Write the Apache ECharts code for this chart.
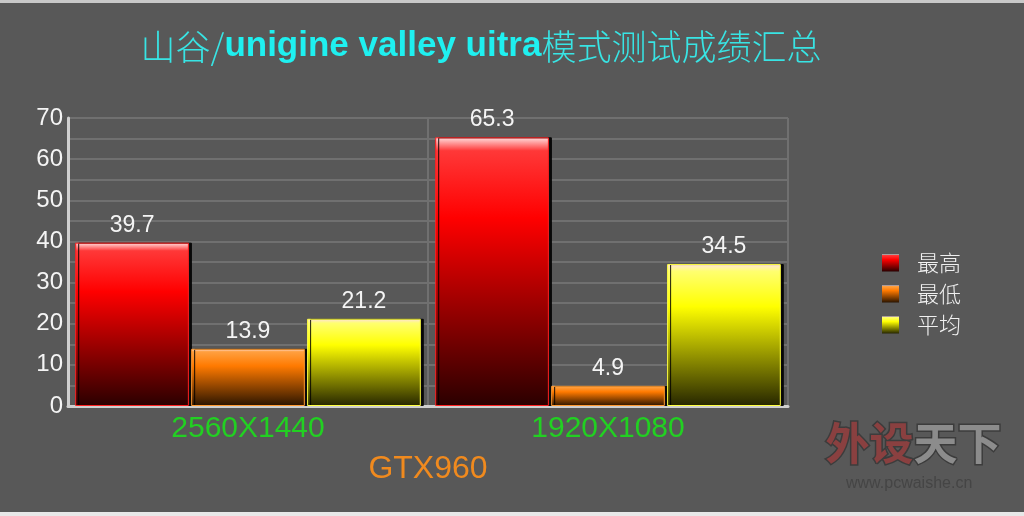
<!DOCTYPE html>
<html><head><meta charset="utf-8">
<script src="https://cdn.jsdelivr.net/npm/echarts@6/dist/echarts.min.js"></script>
<style>html,body{margin:0;padding:0;background:#585858}#c{width:1024px;height:516px}</style>
</head><body><div id="c"></div>
<script>
const categories = ['2560X1440', '1920X1080'];
const seriesNames = ['最高', '最低', '平均'];
const maxValues = [39.7, 65.3];
const minValues = [13.9, 4.9];
const avgValues = [21.2, 34.5];

function grad(top, mid, bottom) {
  return new echarts.graphic.LinearGradient(0, 0, 0, 1, [
    {offset: 0, color: '#ffe0e0'},
    {offset: 0.05, color: top},
    {offset: 0.3, color: mid},
    {offset: 1, color: bottom}
  ]);
}
const styles = [
  {c: grad('#ff3838', '#ff0000', '#2a0000'), b: '#ff2020'},
  {c: grad('#ffa040', '#ff7a00', '#2a1400'), b: '#ff9a30'},
  {c: grad('#ffff70', '#ffff00', '#262600'), b: '#ffff40'}
];
const dataSets = [maxValues, minValues, avgValues];

const chart = echarts.init(document.getElementById('c'));
chart.setOption({
  backgroundColor: '#585858',
  animation: false,
  title: {
    text: '{a|山谷/}{b|unigine valley uitra}{a|模式测试成绩汇总}',
    left: 476, top: 24, textAlign: 'center',
    textStyle: {
      rich: {
        a: {fontFamily: 'Noto Sans CJK SC', fontWeight: 300, fontSize: 35, color: '#38e4e4'},
        b: {fontFamily: 'Liberation Sans', fontWeight: 'bold', fontSize: 35, color: '#1ff0f0'}
      }
    }
  },
  legend: {
    orient: 'vertical', left: 877, top: 247, itemGap: 9,
    itemWidth: 17, itemHeight: 17, icon: 'rect',
    textStyle: {color: '#f0f0f0', fontSize: 22, fontFamily: 'Noto Sans CJK SC', fontWeight: 300, padding: [0, 0, 0, 13]},
    data: seriesNames.map((n, i) => ({name: n, itemStyle: {color: styles[i].c, borderWidth: 0}}))
  },
  grid: {left: 68, right: 236, top: 118, bottom: 110},
  xAxis: {
    type: 'category', data: categories,
    axisLine: {lineStyle: {color: '#cfcfcf', width: 3}},
    axisTick: {show: false},
    axisLabel: {color: '#22d022', fontSize: 30, fontFamily: 'Liberation Sans', margin: 8},
    splitLine: {show: true, lineStyle: {color: '#707070', width: 2}},
    name: 'GTX960', nameLocation: 'middle', nameGap: 47,
    nameTextStyle: {color: '#f08a1e', fontSize: 32, fontFamily: 'Liberation Sans'}
  },
  yAxis: {
    type: 'value', min: 0, max: 70, interval: 5,
    axisLine: {show: true, lineStyle: {color: '#cfcfcf', width: 3}},
    axisTick: {show: false},
    axisLabel: {color: '#f4f4f4', fontSize: 24, fontFamily: 'Liberation Sans', margin: 5,
      formatter: v => (v % 10 === 0 ? String(v) : '')},
    splitLine: {lineStyle: {color: '#707070', width: 2}}
  },
  series: seriesNames.map((n, i) => ({
    name: n, type: 'bar', data: dataSets[i],
    barGap: '2%', barCategoryGap: '4%',
    itemStyle: {color: styles[i].c, borderColor: styles[i].b, borderWidth: 1,
      shadowColor: 'rgba(0,0,0,0.9)', shadowOffsetX: 3, shadowOffsetY: 0, shadowBlur: 0},
    label: {show: true, position: 'top', distance: 6, color: '#f4f4f4', fontSize: 23, fontFamily: 'Liberation Sans'}
  })),
  graphic: [
    {type: 'rect', left: 0, top: 0, shape: {width: 1024, height: 3}, style: {fill: '#c8c8c8'}},
    {type: 'rect', left: 0, top: 512, shape: {width: 1024, height: 4}, style: {fill: '#e8e8e8'}},
    {type: 'text', left: 824, top: 420, style: {text: '外设', fill: '#8a4040', stroke: '#3c3c3c', lineWidth: 3, font: 'bold 44px "Noto Sans CJK SC"'}},
    {type: 'text', left: 912, top: 420, style: {text: '天下', fill: '#8c8c8c', stroke: '#3c3c3c', lineWidth: 3, font: 'bold 44px "Noto Sans CJK SC"'}},
    {type: 'text', left: 846, top: 476, style: {text: 'www.pcwaishe.cn', fill: '#454545', font: '16px "Liberation Sans"'}}
  ]
});
</script></body></html>
